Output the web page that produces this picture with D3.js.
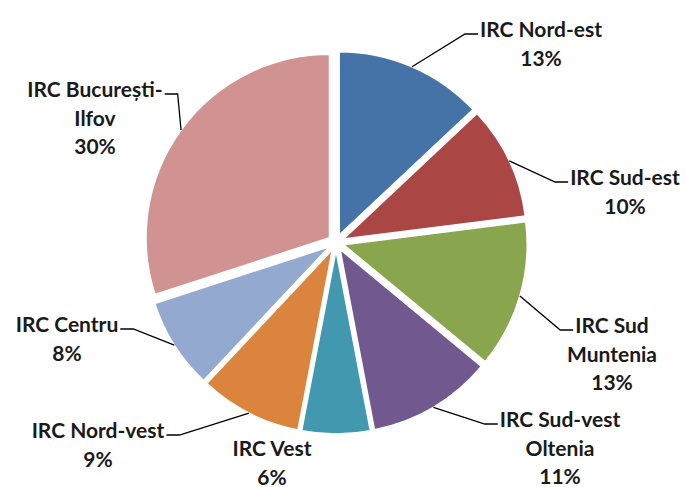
<!DOCTYPE html>
<html>
<head>
<meta charset="utf-8">
<script src="https://cdn.jsdelivr.net/npm/d3@7"></script>
<style>
	body { margin: 0; background: #fff; }
	text { font-family: Lato, "Open Sans", sans-serif; font-weight: bold; font-size: 21px; fill: #1a1a1a; }
</style>
</head>
<body>
<div id="chart"></div>
<script>

// data
var regions = ["IRC Nord-est", "IRC Sud-est", "IRC Sud Muntenia", "IRC Sud-vest Oltenia",
	"IRC Vest", "IRC Nord-vest", "IRC Centru", "IRC București-Ilfov"];
var shares = [13, 10, 13, 11, 6, 9, 8, 30];
var labelLines = [
	["IRC Nord-est"], ["IRC Sud-est"], ["IRC Sud", "Muntenia"], ["IRC Sud-vest", "Oltenia"],
	["IRC Vest"], ["IRC Nord-vest"], ["IRC Centru"], ["IRC București-", "Ilfov"]
];
var colors = ["#4572a7", "#aa4643", "#89a54e", "#71588f", "#4198af", "#db843d", "#93a9cf", "#d19392"];

// layout: label centre x, first baseline y, leader side (0 = none)
var labelPos = [
	[541, 37, 1], [625, 185, 1], [612, 333, 1], [560, 427, 1],
	[272, 456, 0], [98, 438, -1], [67, 332, -1], [95, 97, -1]
];

var width = 685, height = 487;
var cx = 336, cy = 242.5, r = 183.5, explode = 8, lineH = 28.5;

var svg = d3.select("#chart")
	.append("svg")
	.attr("width", width)
	.attr("height", height);

var pie = d3.pie().sort(null).value(function(d) { return d; });
var arcs = pie(shares);
var arc = d3.arc().innerRadius(0).outerRadius(r);

function mid(d) { return (d.startAngle + d.endAngle) / 2; }

var slices = svg.append("g")
	.attr("transform", "translate(" + cx + "," + cy + ")");

slices.selectAll("path")
	.data(arcs)
	.enter()
	.append("path")
	.attr("d", arc)
	.attr("transform", function(d) {
		var a = mid(d);
		return "translate(" + (explode * Math.sin(a)) + "," + (-explode * Math.cos(a)) + ")";
	})
	.style("fill", function(d, i) { return colors[i]; })
	.style("stroke", "#fff")
	.style("stroke-width", 1.5);

var lines = svg.append("g");
var labels = svg.append("g");

arcs.forEach(function(d, i) {
	var p = labelPos[i];
	var t = labels.append("text")
		.attr("text-anchor", "middle")
		.attr("x", p[0])
		.attr("y", p[1]);

	var rows = labelLines[i].concat([shares[i] + "%"]);
	rows.forEach(function(s, k) {
		t.append("tspan")
			.attr("x", p[0])
			.attr("y", p[1] + k * lineH)
			.text(s);
	});

	if (p[2] == 0) return;

	// width of first line decides where the leader meets the label
	var w = t.select("tspan").node().getComputedTextLength();
	var a = mid(d);
	var ax = cx + (explode + r) * Math.sin(a);
	var ay = cy - (explode + r) * Math.cos(a);
	var ex = p[0] - p[2] * (w / 2 + 2);
	var ey = p[1] - 3;
	var bx = ex - p[2] * 13;

	lines.append("polyline")
		.attr("points", [[ax, ay], [bx, ey], [ex, ey]].join(" "))
		.attr("fill", "none")
		.attr("stroke", "#000")
		.attr("stroke-width", 1.3);
});

</script>
</body>
</html>
